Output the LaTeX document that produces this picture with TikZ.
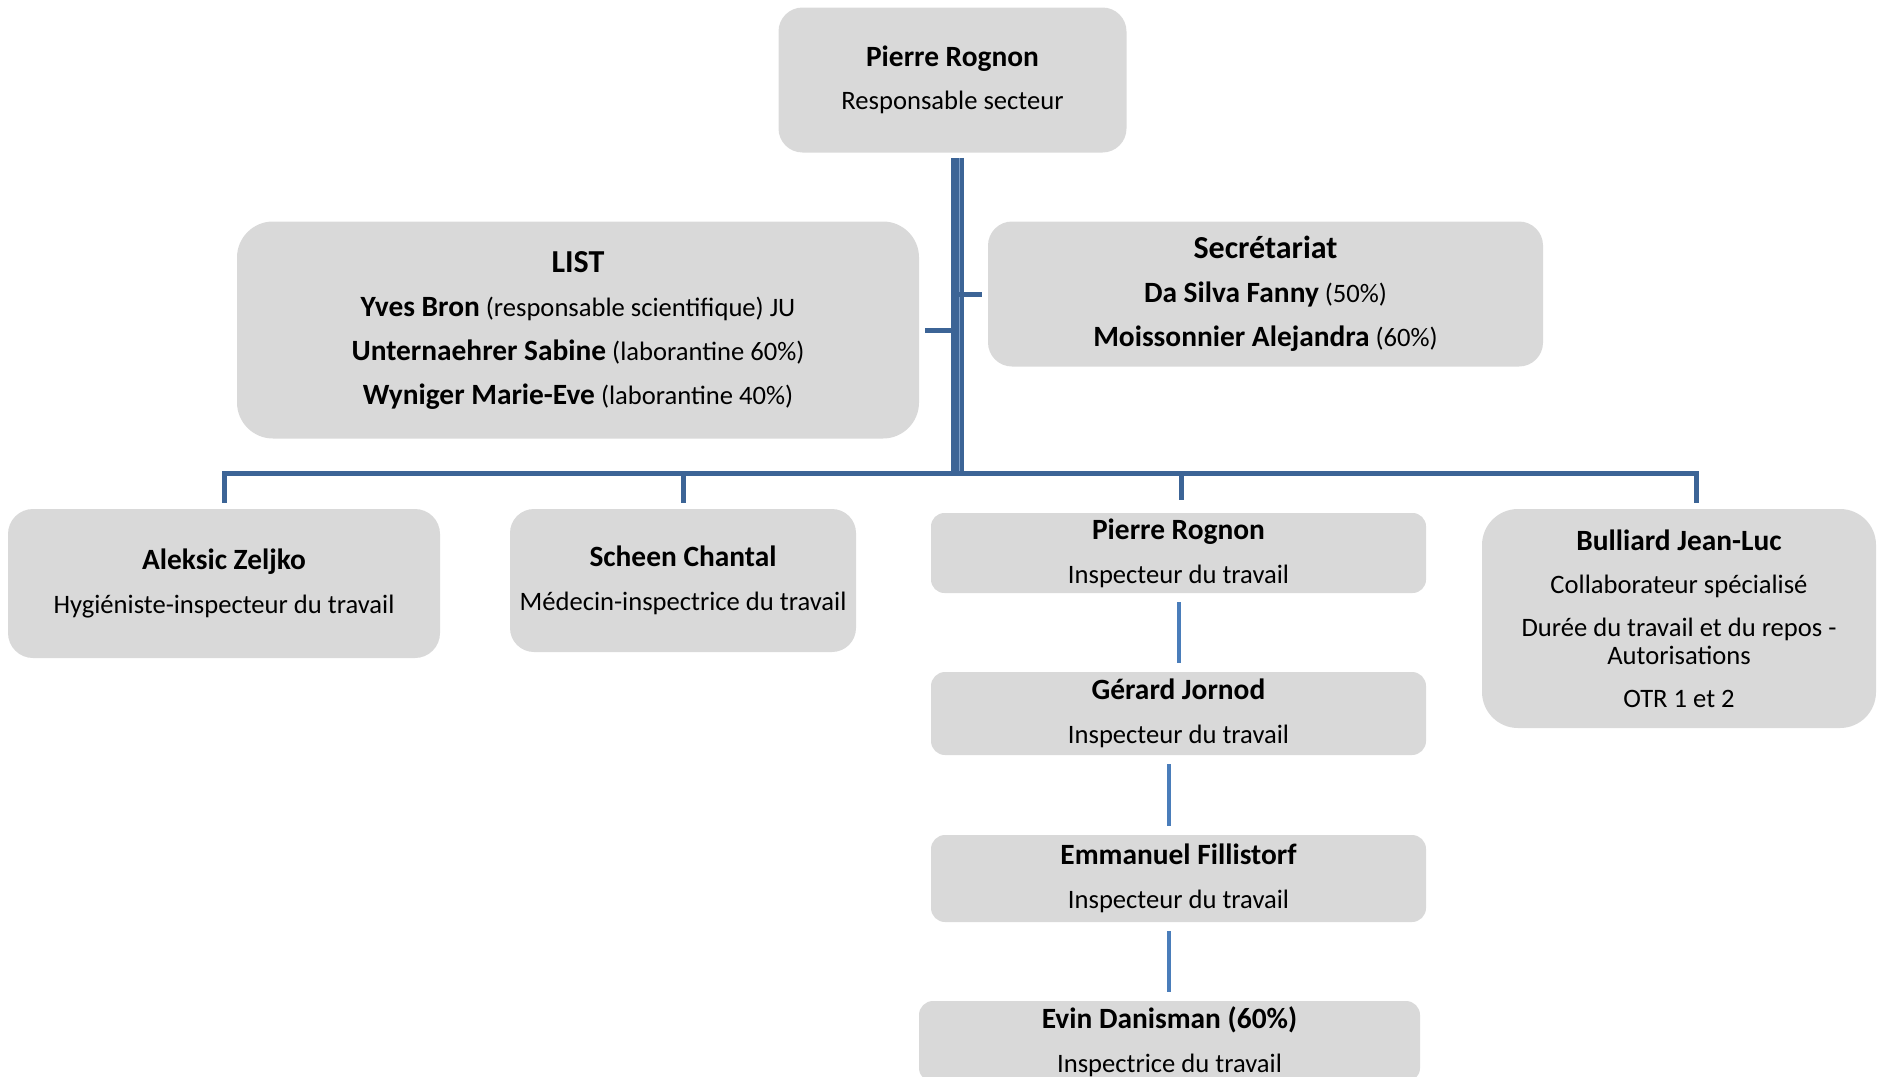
\documentclass[tikz,border=0pt]{standalone}
\usepackage{fontspec}
\setmainfont{Carlito}
\usepackage{tikz}

\definecolor{boxgray}{HTML}{D9D9D9}
\definecolor{linkblue}{HTML}{3C6496}
\definecolor{chainblue}{HTML}{4A7DBA}
\definecolor{stripeblue}{HTML}{7E9FC9}
\newcommand{\nm}[1]{{\fontsize{14.7}{14}\selectfont\bfseries #1}}
\newcommand{\ttl}[1]{{\fontsize{16}{14}\selectfont\bfseries #1}}

\begin{document}
\begin{tikzpicture}[x=0.5pt,y=-0.5pt,
	box/.style={fill=boxgray,align=center,inner sep=0pt,font=\fontsize{13.3}{14}\selectfont},
	bus/.style={linkblue,line width=2.5pt},
	chain/.style={chainblue,line width=2pt,shorten <=4.5pt,shorten >=4.5pt}]
	\useasboundingbox (0,0) rectangle (1877,1076);
	% top and staff
	\node[box,minimum width=174pt,minimum height=72.5pt,rounded corners=12pt] (chef) at (952.5,80)
		{\nm{Pierre Rognon}\\[7.5pt]Responsable secteur};
	\node[box,minimum width=341pt,minimum height=108.5pt,rounded corners=18pt] (list) at (578,330)
		{\ttl{LIST}\\[8pt]\nm{Yves Bron} (responsable scientifique) JU\\[8pt]
		\nm{Unternaehrer Sabine} (laborantine 60\%)\\[8pt]\nm{Wyniger Marie-Eve} (laborantine 40\%)};
	\node[box,minimum width=277.5pt,minimum height=72.5pt,rounded corners=12pt] (secr) at (1265.5,294)
		{\ttl{Secrétariat}\\[8pt]\nm{Da Silva Fanny} (50\%)\\[8pt]\nm{Moissonnier Alejandra} (60\%)};
	% collaborators
	\node[box,minimum width=216pt,minimum height=74.5pt,rounded corners=12.5pt] (aleksic) at (224,583.5)
		{\nm{Aleksic Zeljko}\\[8pt]Hygiéniste-inspecteur du travail};
	\node[box,minimum width=173pt,minimum height=71.5pt,rounded corners=12pt] (scheen) at (683,580.5)
		{\nm{Scheen Chantal}\\[8pt]Médecin-inspectrice du travail};
	\node[box,minimum width=247.5pt,minimum height=40pt,rounded corners=6.7pt] (rognon) at (1178.5,553)
		{\nm{Pierre Rognon}\\[8pt]Inspecteur du travail};
	\node[box,minimum width=197pt,minimum height=109.5pt,rounded corners=18pt] (bulliard) at (1679,618.5)
		{\nm{Bulliard Jean-Luc}\\[7.5pt]Collaborateur spécialisé\\[7.5pt]
		Durée du travail et du repos -\\Autorisations\\[7.5pt]OTR 1 et 2};
	\node[box,minimum width=247.5pt,minimum height=41.5pt,rounded corners=7pt] (jornod) at (1178.5,713.5)
		{\nm{Gérard Jornod}\\[8pt]Inspecteur du travail};
	\node[box,minimum width=247.5pt,minimum height=43.5pt,rounded corners=7pt] (fillistorf) at (1178.5,878.5)
		{\nm{Emmanuel Fillistorf}\\[8pt]Inspecteur du travail};
	\node[box,minimum width=250.5pt,minimum height=40.5pt,rounded corners=7pt] (danisman) at (1169.5,1041.5)
		{\nm{Evin Danisman (60\%)}\\[8pt]Inspectrice du travail};
	% connectors
	\coordinate (hub) at (957.5,473.5);
	\draw[linkblue,line width=6.5pt] ([xshift=2.5pt,yshift=-2.5pt]chef.south) -- ([yshift=-1.25pt]hub);
	\draw[stripeblue,line width=0.5pt] ([xshift=3.5pt,yshift=-2.5pt]chef.south) -- ([xshift=1pt]hub);
	\draw[bus] ([yshift=3pt]aleksic.north) |- (hub) -| ([xshift=8.5pt,yshift=3pt]bulliard.north);
	\draw[bus] (scheen.north |- hub) -- ([yshift=3pt]scheen.north);
	\draw[bus] ([xshift=1.25pt]rognon.north |- hub) -- ([xshift=1.25pt,yshift=6.5pt]rognon.north);
	\draw[bus] ([xshift=3pt]list.east) -- (list.east -| hub);
	\draw[bus] ([xshift=-3pt]secr.west) -- (secr.west -| hub);
	\draw[chain] ([xshift=0.25pt]rognon.south) -- ([xshift=0.25pt]jornod.north);
	\draw[chain] ([xshift=-4.75pt]jornod.south) -- ([xshift=-4.75pt]fillistorf.north);
	\draw[chain] ([xshift=-4.75pt]fillistorf.south) -- ([xshift=-4.75pt]danisman.north -| fillistorf.south);
\end{tikzpicture}
\end{document}
